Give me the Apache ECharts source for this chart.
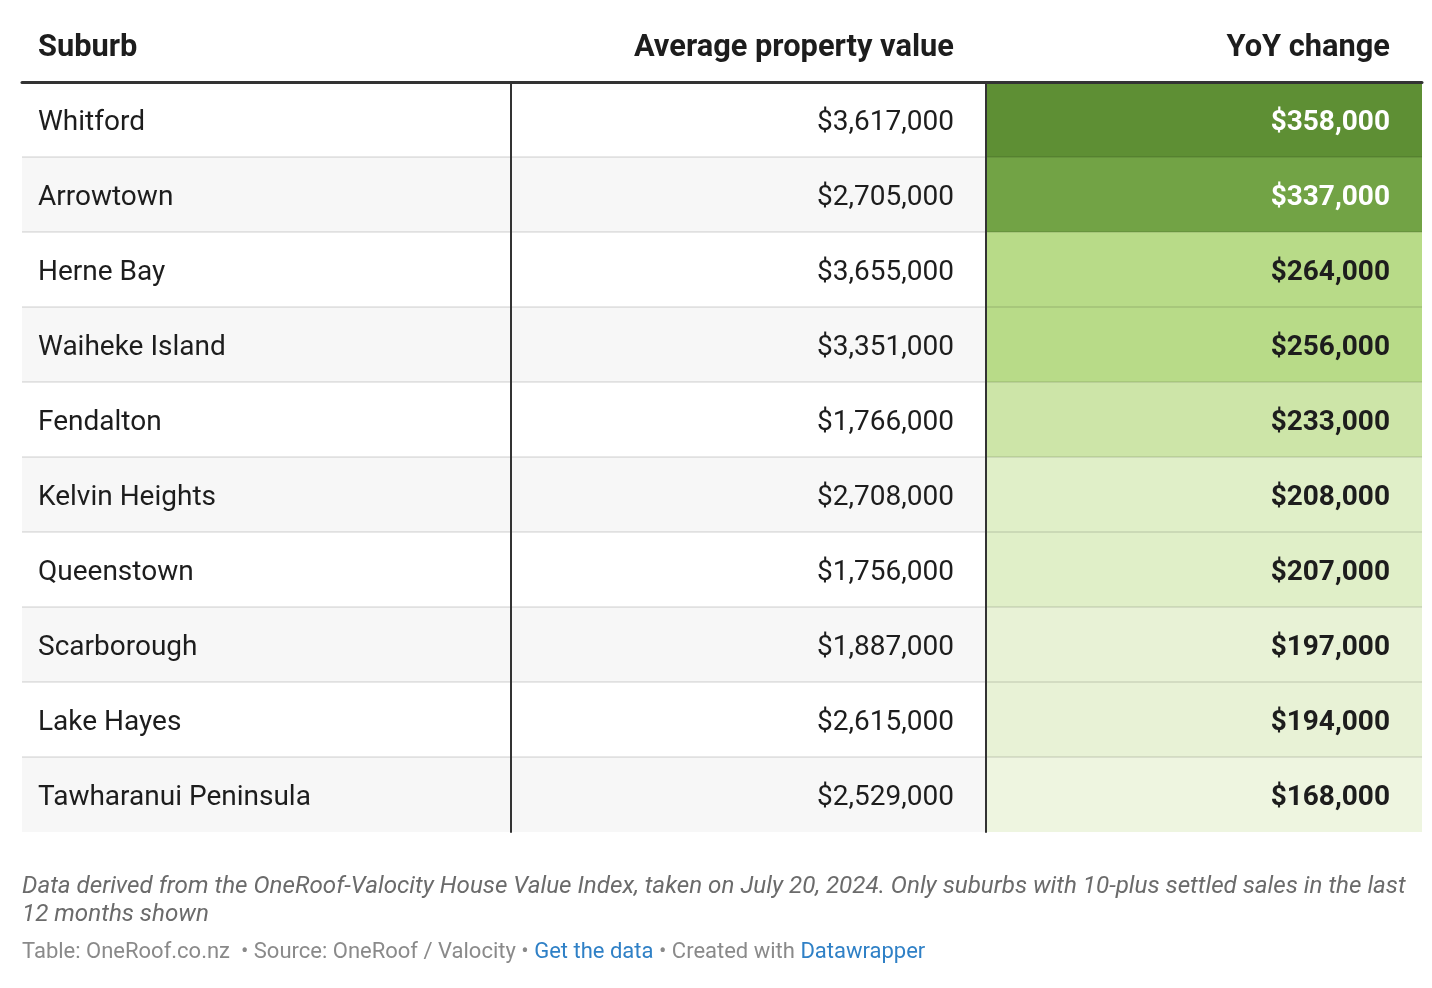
<!DOCTYPE html>
<html><head><meta charset="utf-8">
<script src="https://cdn.jsdelivr.net/npm/echarts@6/dist/echarts.min.js"></script>
<style>html,body{margin:0;padding:0;background:#fff;} #chart{width:1432px;height:988px;}</style>
</head><body><div id="chart"></div>
<script>
// ---- data ----
const columnTitles = ['Suburb', 'Average property value', 'YoY change'];
const suburbs = ['Whitford', 'Arrowtown', 'Herne Bay', 'Waiheke Island', 'Fendalton',
  'Kelvin Heights', 'Queenstown', 'Scarborough', 'Lake Hayes', 'Tawharanui Peninsula'];
const avgValue = [3617000, 2705000, 3655000, 3351000, 1766000, 2708000, 1756000, 1887000, 2615000, 2529000];
const yoyChange = [358000, 337000, 264000, 256000, 233000, 208000, 207000, 197000, 194000, 168000];
const noteLines = [
  'Data derived from the OneRoof-Valocity House Value Index, taken on July 20, 2024. Only suburbs with 10-plus settled sales in the last',
  '12 months shown'
];
const creditParts = ['Table: OneRoof.co.nz  • Source: OneRoof / Valocity • ', 'Get the data', ' • Created with ', 'Datawrapper'];

// ---- chart ----
const FONT = 'Roboto, "Noto Sans", sans-serif';
const money = v => '$' + v.toLocaleString('en-US');
const chart = echarts.init(document.getElementById('chart'), null, {renderer: 'canvas'});

const TOP = 82, HEIGHT = 750;
const cols = [
  {left: 22, width: 489},
  {left: 511, width: 475},
  {left: 986, width: 436}
];

function makeRenderer(col) {
  return function (params, api) {
    const row = api.value(1);
    const c = api.coord([0, row]);
    const s = api.size([1, 1]);
    const w = s[0], h = s[1];
    const x = c[0], y = c[1] - h / 2;
    let fill;
    if (col === 2) fill = api.visual('color');
    else fill = row % 2 === 0 ? '#ffffff' : '#f7f7f7';
    const children = [{type: 'rect', shape: {x: x, y: y, width: w, height: h}, style: {fill: fill}}];
    if (row < suburbs.length - 1) {
      children.push({type: 'line', z2: 10, shape: {x1: x, y1: y + h, x2: x + w, y2: y + h},
        style: {stroke: 'rgba(0,0,0,0.09)', lineWidth: 2}});
    }
    let text, tx, align, weight = 'normal', color = '#1d1d1d';
    if (col === 0) { text = suburbs[row]; tx = x + 16; align = 'left'; }
    else if (col === 1) { text = money(api.value(2)); tx = x + w - 32; align = 'right'; }
    else {
      const v = api.value(2);
      text = money(v); tx = x + w - 32; align = 'right'; weight = 'bold';
      color = v >= 300000 ? '#ffffff' : '#1d1d1d';
    }
    children.push({type: 'text', z2: 20, style: {
      text: text, x: tx, y: c[1] + 3, align: align, verticalAlign: 'middle',
      textAlign: align, textVerticalAlign: 'middle',
      fontSize: 28, fontWeight: weight, fontFamily: FONT, fill: color}});
    return {type: 'group', children: children};
  };
}

const grids = cols.map(c => ({left: c.left, width: c.width, top: TOP, height: HEIGHT}));
const xAxes = cols.map((c, i) => ({
  type: 'value', gridIndex: i, min: 0, max: 1, position: 'top', z: 10,
  axisLine: {show: true, lineStyle: {color: '#333', width: 3}},
  axisTick: {show: false}, axisLabel: {show: false}, splitLine: {show: false}
}));
const yAxes = cols.map((c, i) => ({
  type: 'category', gridIndex: i, data: suburbs, inverse: true, z: 10,
  axisLine: {show: i > 0, lineStyle: {color: '#333', width: 2}},
  axisTick: {show: false}, axisLabel: {show: false}, splitLine: {show: false}
}));

const series = [
  {type: 'custom', xAxisIndex: 0, yAxisIndex: 0, renderItem: makeRenderer(0),
    data: suburbs.map((s, i) => [0, i, 0])},
  {type: 'custom', xAxisIndex: 1, yAxisIndex: 1, renderItem: makeRenderer(1),
    data: avgValue.map((v, i) => [0, i, v])},
  {type: 'custom', xAxisIndex: 2, yAxisIndex: 2, renderItem: makeRenderer(2),
    data: yoyChange.map((v, i) => [0, i, v])}
];

const headerY = 48;
const headStyle = {fontSize: 30.8, fontWeight: 'bold', fontFamily: FONT, fill: '#1d1d1d',
  verticalAlign: 'middle', textVerticalAlign: 'middle'};

chart.setOption({
  animation: false,
  backgroundColor: '#ffffff',
  grid: grids,
  xAxis: xAxes,
  yAxis: yAxes,
  visualMap: {
    type: 'piecewise', show: false, seriesIndex: 2, dimension: 2,
    pieces: [
      {min: 350000, color: '#5e8f34'},
      {min: 300000, max: 350000, color: '#72a345'},
      {min: 250000, max: 300000, color: '#b8db88'},
      {min: 225000, max: 250000, color: '#cde5a8'},
      {min: 200000, max: 225000, color: '#e0efc8'},
      {min: 180000, max: 200000, color: '#e8f2d6'},
      {max: 180000, color: '#eef5e0'}
    ]
  },
  series: series,
  graphic: [
    {type: 'text', style: Object.assign({text: columnTitles[0], x: 38, y: headerY, align: 'left', textAlign: 'left'}, headStyle)},
    {type: 'text', style: Object.assign({text: columnTitles[1], x: 954, y: headerY, align: 'right', textAlign: 'right'}, headStyle)},
    {type: 'text', style: Object.assign({text: columnTitles[2], x: 1390, y: headerY, align: 'right', textAlign: 'right'}, headStyle)},
    {type: 'text', style: {text: noteLines.join('\n'), x: 22, y: 873, fontSize: 24.2, fontStyle: 'italic',
      fontFamily: FONT, fill: '#6b6b6b', lineHeight: 28, verticalAlign: 'top', textVerticalAlign: 'top'}},
    {type: 'text', style: {
      text: '{g|' + creditParts[0] + '}{b|' + creditParts[1] + '}{g|' + creditParts[2] + '}{b|' + creditParts[3] + '}',
      x: 22, y: 952, verticalAlign: 'middle', textVerticalAlign: 'middle',
      rich: {
        g: {fontSize: 22, fontFamily: FONT, fill: '#8a8a8a'},
        b: {fontSize: 22, fontFamily: FONT, fill: '#2f80c6'}
      }}}
  ]
});
</script></body></html>
